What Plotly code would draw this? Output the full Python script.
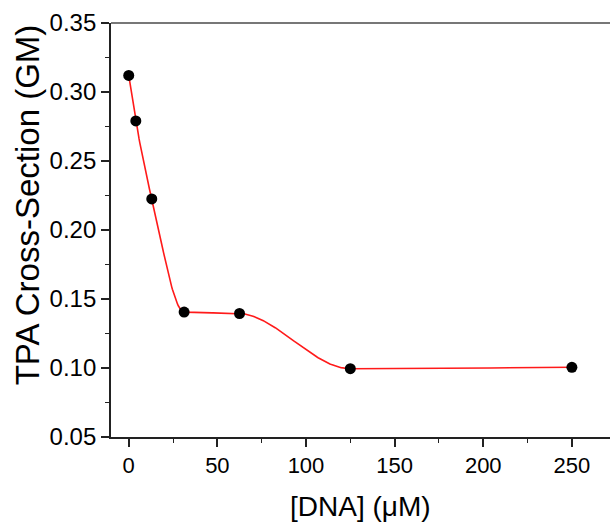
import numpy as np
import plotly.graph_objects as go

dna_conc = [0, 4, 13, 31.25, 62.5, 125, 250]
tpa_cross_section = [0.312, 0.279, 0.2225, 0.1405, 0.1395, 0.0995, 0.1005]

x_title = "[DNA] (μM)"
y_title = "TPA Cross-Section (GM)"
x_ticks = [0, 50, 100, 150, 200, 250]
y_ticks = [0.05, 0.10, 0.15, 0.20, 0.25, 0.30, 0.35]


def pchip_curve(x, y, n=600):
    """Monotone cubic (Fritsch-Carlson) smoothing line through the data points."""
    x = np.asarray(x, float)
    y = np.asarray(y, float)
    h = np.diff(x)
    d = np.diff(y) / h
    m = np.zeros_like(x)
    for k in range(1, len(x) - 1):
        if d[k - 1] * d[k] > 0:
            w1 = 2 * h[k] + h[k - 1]
            w2 = h[k] + 2 * h[k - 1]
            m[k] = (w1 + w2) / (w1 / d[k - 1] + w2 / d[k])
    m[0] = d[0]
    m[-1] = d[-1]
    xs = np.linspace(x[0], x[-1], n)
    idx = np.clip(np.searchsorted(x, xs) - 1, 0, len(x) - 2)
    t = (xs - x[idx]) / h[idx]
    h00 = 2 * t**3 - 3 * t**2 + 1
    h10 = t**3 - 2 * t**2 + t
    h01 = -2 * t**3 + 3 * t**2
    h11 = t**3 - t**2
    ys = h00 * y[idx] + h10 * h[idx] * m[idx] + h01 * y[idx + 1] + h11 * h[idx] * m[idx + 1]
    return xs, ys


cx, cy = pchip_curve(dna_conc, tpa_cross_section)

FONT = "Liberation Sans, Arial, sans-serif"

fig = go.Figure()
fig.add_trace(go.Scatter(
    x=cx, y=cy, mode="lines",
    line=dict(color="#ff1a1a", width=1.6),
    hoverinfo="skip", showlegend=False,
))
fig.add_trace(go.Scatter(
    x=dna_conc, y=tpa_cross_section, mode="markers",
    marker=dict(color="black", size=11),
    showlegend=False,
))

axis_common = dict(
    showgrid=False, zeroline=False, showline=True, linecolor="#222",
    linewidth=1.8, ticks="outside", ticklen=8, tickwidth=1.5, tickcolor="#222",
    minor=dict(ticks="outside", ticklen=4, tickwidth=1.2, tickcolor="#222"),
)

fig.update_xaxes(
    range=[-10, 271.5], tickvals=x_ticks,
    minor_tickvals=[25, 75, 125, 175, 225],
    tickfont=dict(family=FONT, size=22, color="black"),
    **axis_common,
)
fig.update_yaxes(
    range=[0.05, 0.35], tickvals=y_ticks,
    ticktext=[f"{v:.2f}" for v in y_ticks],
    minor_tickvals=[0.075, 0.125, 0.175, 0.225, 0.275, 0.325],
    tickfont=dict(family=FONT, size=24, color="black"),
    **axis_common,
)

fig.add_shape(type="line", xref="paper", yref="paper", x0=0, x1=1, y0=1, y1=1,
              line=dict(color="#777", width=1.8))

fig.add_annotation(text=x_title, xref="paper", yref="paper", x=0.5, y=-0.168,
                   xanchor="center", yanchor="middle", showarrow=False, borderpad=0,
                   font=dict(family=FONT, size=28, color="black"))
fig.add_annotation(text=y_title, xref="paper", yref="paper", x=-0.168, y=0.56,
                   xanchor="center", yanchor="middle", textangle=-90, showarrow=False,
                   font=dict(family=FONT, size=33, color="black"))

fig.update_layout(
    width=610, height=526,
    margin=dict(l=111, r=0, t=23, b=89),
    plot_bgcolor="white", paper_bgcolor="white",
)

fig.write_html("out.html")
